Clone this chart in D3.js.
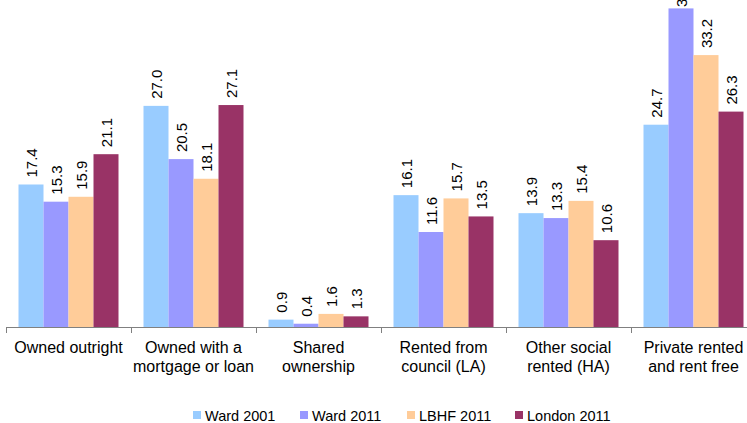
<!DOCTYPE html>
<html><head><meta charset="utf-8">
<script src="https://cdn.jsdelivr.net/npm/d3@7"></script>
<style>html,body{margin:0;padding:0;background:#fff;}svg{display:block;}</style>
</head><body>
<svg id="chart" width="747" height="423"></svg>
<script>
const categories = [["Owned outright"],["Owned with a","mortgage or loan"],["Shared","ownership"],["Rented from","council (LA)"],["Other social","rented (HA)"],["Private rented","and rent free"]];
const seriesNames = ["Ward 2001","Ward 2011","LBHF 2011","London 2011"];
const ward2001 = [17.4,27.0,0.9,16.1,13.9,24.7];
const ward2011 = [15.3,20.5,0.4,11.6,13.3,38.9];
const lbhf2011 = [15.9,18.1,1.6,15.7,15.4,33.2];
const london2011 = [21.1,27.1,1.3,13.5,10.6,26.3];
const colors = ["#99CCFF","#9999FF","#FFCC99","#993366"];
const seriesValues = [ward2001, ward2011, lbhf2011, london2011];

const svg = d3.select("#chart");
const font = "Liberation Sans, Arial, sans-serif";
const baseY = 327;
const y = d3.scaleLinear().domain([0,40]).range([baseY, baseY - 40*8.19]);
const catIdx = categories.map((c,i)=>i);
const x0 = d3.scaleBand().domain(catIdx).range([6, 756]).padding(0);
const x1 = d3.scaleBand().domain(d3.range(4)).range([0, x0.bandwidth()]).paddingInner(0).paddingOuter(0.5);

const g = svg.append("g");
catIdx.forEach(ci=>{
  seriesValues.forEach((vals, si)=>{
    const v = vals[ci];
    const bx = x0(ci) + x1(si);
    g.append("rect").attr("x", bx).attr("y", y(v)).attr("width", x1.bandwidth()).attr("height", baseY - y(v)).attr("fill", colors[si]);
    const cx = bx + x1.bandwidth()/2;
    const ly = Math.max(y(v) - 7, 7);
    g.append("text").attr("transform", `translate(${cx+5.5},${ly}) rotate(-90)`)
      .attr("font-family", font).attr("font-size", 15).attr("fill","#000")
      .attr("text-anchor","start").text(v.toFixed(1));
  });
});

// axis
const axis = d3.axisBottom(x0).tickSize(0).tickFormat("");
const ag = svg.append("g").attr("transform", `translate(0,${baseY})`).call(axis);
ag.select(".domain").remove();
ag.append("line").attr("x1", 6).attr("x2", 747).attr("y1", 0.5).attr("y2", 0.5).attr("stroke", "#808080").attr("stroke-width", 1);
catIdx.forEach(ci=>{
  const tx = Math.round(x0(ci)) + 0.5;
  ag.append("line").attr("x1", tx).attr("x2", tx).attr("y1", 0).attr("y2", 6).attr("stroke", "#808080");
  const lines = categories[ci];
  lines.forEach((ln, li)=>{
    ag.append("text").attr("x", x0(ci) + x0.bandwidth()/2).attr("y", 26 + li*19)
      .attr("text-anchor","middle").attr("font-family", font).attr("font-size", 16).attr("fill","#000").text(ln);
  });
});

// legend
const legX = [193, 300, 407, 515];
const leg = svg.append("g");
seriesNames.forEach((s,i)=>{
  leg.append("rect").attr("x", legX[i]).attr("y", 411).attr("width", 8).attr("height", 8).attr("fill", colors[i]);
  leg.append("text").attr("x", legX[i]+12).attr("y", 421).attr("font-family", font).attr("font-size", 14.5).attr("fill","#000").text(s);
});
</script>
</body></html>
